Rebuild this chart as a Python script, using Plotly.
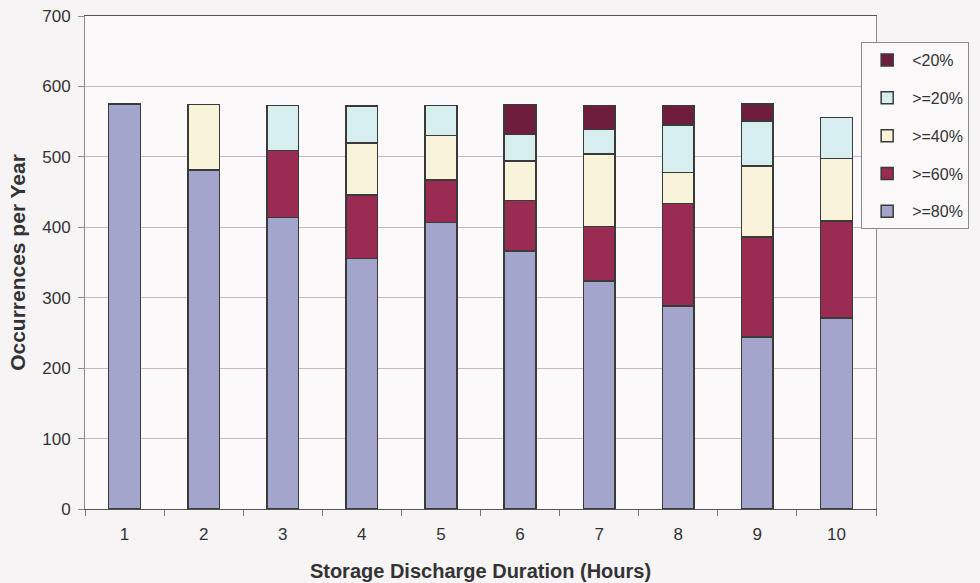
import plotly.graph_objects as go

categories = ["1", "2", "3", "4", "5", "6", "7", "8", "9", "10"]
ge80 = [575, 481, 414, 356, 407, 366, 324, 288, 244, 271]
ge60 = [0, 0, 95, 90, 60, 72, 77, 146, 142, 138]
ge40 = [0, 93, 0, 74, 63, 56, 103, 44, 101, 89]
ge20 = [0, 0, 64, 52, 43, 38, 35, 67, 64, 58]
lt20 = [0, 0, 0, 0, 0, 42, 34, 28, 24, 0]

series = [
    (">=80%", ge80, "#a3a6cc"),
    (">=60%", ge60, "#9a2b52"),
    (">=40%", ge40, "#f8f4da"),
    (">=20%", ge20, "#d6eeee"),
    ("<20%", lt20, "#6f1d3c"),
]

fig = go.Figure()
for i, (name, vals, color) in enumerate(series):
    fig.add_trace(go.Bar(
        x=categories, y=vals, name=name, legendgroup=name,
        legendrank=1000 - i,
        marker=dict(color=color, line=dict(color="#3a3a3a", width=1.5)),
    ))

font_family = "Arial, Liberation Sans, sans-serif"
fig.update_layout(
    barmode="stack",
    bargap=0.6,
    width=980, height=583,
    margin=dict(l=85, r=103, t=16, b=74),
    paper_bgcolor="#f7f4f6",
    plot_bgcolor="#fbf9fa",
    font=dict(family=font_family, size=17, color="#333333"),
    legend=dict(
        x=0.98, y=0.947, xanchor="left", yanchor="top",
        traceorder="grouped", tracegroupgap=14,
        bgcolor="#faf8f9", bordercolor="#8a8a8a", borderwidth=1,
        font=dict(size=16, color="#333333"),
        itemwidth=40, entrywidth=105,
    ),
    xaxis=dict(
        title=dict(text="<b>Storage Discharge Duration (Hours)</b>", font=dict(size=20, color="#333333"), standoff=20),
        showline=True, linecolor="#555555", linewidth=1, mirror=True,
        ticks="outside", tickson="boundaries", ticklen=6, tickcolor="#777777",
        ticklabelstandoff=10,
        showgrid=False, automargin=False,
    ),
    yaxis=dict(
        title=dict(text="<b>Occurrences per Year</b>", font=dict(size=21, color="#333333"), standoff=10),
        range=[0, 700], dtick=100,
        showline=True, linecolor="#8a8a8a", linewidth=1, mirror=True,
        ticks="outside", ticklen=6, tickcolor="#8a8a8a",
        ticklabelstandoff=4,
        gridcolor="#c9b7c2", gridwidth=1,
        zeroline=False, automargin=False,
    ),
)

fig.write_html("out.html", config={"displayModeBar": False},
               post_script="document.body.style.margin='0';")
